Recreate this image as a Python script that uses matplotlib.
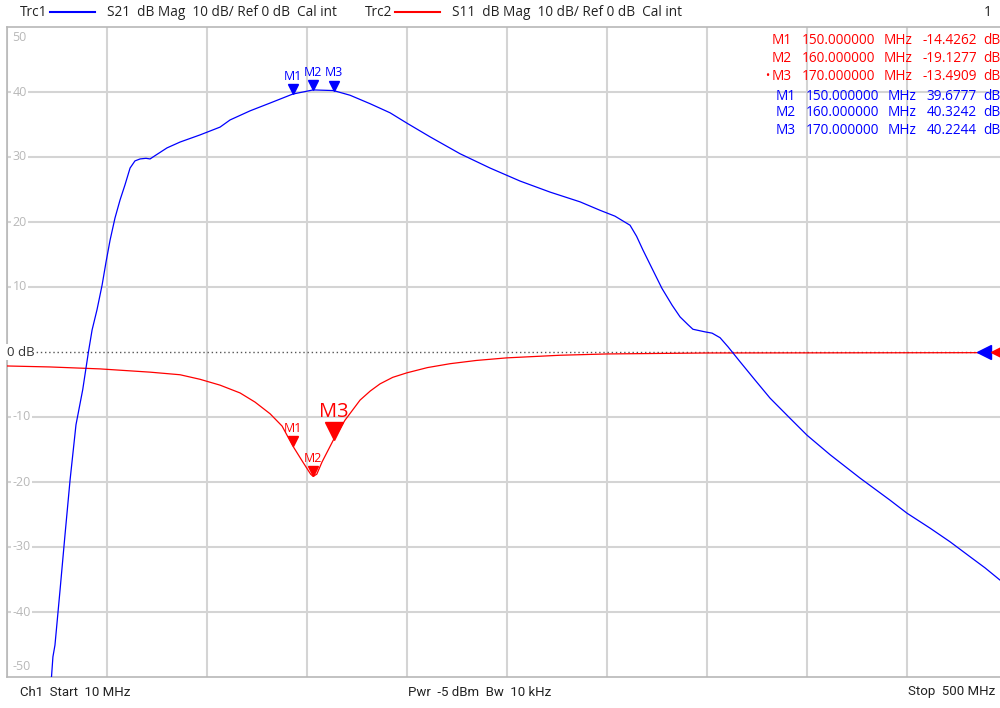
# -*- coding: utf-8 -*-
import matplotlib
matplotlib.use('Agg')
import matplotlib.pyplot as plt
from matplotlib.lines import Line2D
from matplotlib.transforms import offset_copy

plt.rcParams['font.family'] = ['Open Sans', 'DejaVu Sans']

# S21 trace (blue), MHz / dB
s21_f = [31.0, 31.8, 32.5, 33.5, 36.0, 38.4, 40.9, 43.8, 47.1, 49.9, 51.7, 54.1, 56.6, 58.5,
         60.5, 62.9, 65.4, 67.8, 70.3, 72.7, 75.2, 78.1, 80.1, 82.5, 88.4, 94.8, 104.6, 114.4,
         119.3, 129.1, 138.9, 150.0, 160.0, 170.0, 178.1, 187.9, 197.7, 206.0, 217.3, 232.0,
         246.7, 261.4, 276.1, 290.8, 300.6, 307.9, 315.3, 318.5, 321.6, 326.0, 330.9, 335.9, 339.8,
         343.7, 346.1, 352.0, 355.5, 359.4, 363.3, 369.2, 376.5, 383.9, 393.7, 402.0, 413.3,
         428.0, 442.7, 451.0, 462.3, 472.1, 481.9, 489.2, 496.6, 500.0]
s21_db = [-52.0, -50.0, -46.9, -45.1, -36.6, -28.2, -19.7, -11.2, -5.8, 0.0, 3.4, 6.5, 10.3, 13.8,
          17.2, 20.6, 23.4, 25.7, 28.3, 29.4, 29.7, 29.8, 29.7, 30.2, 31.4, 32.3, 33.4, 34.6,
          35.7, 37.1, 38.3, 39.68, 40.32, 40.22, 39.5, 38.2, 36.8, 35.2, 33.1, 30.5,
          28.3, 26.3, 24.6, 23.1, 21.8, 20.9, 19.5, 17.8, 15.7, 12.9, 9.8, 7.2, 5.4,
          4.2, 3.5, 3.1, 2.9, 2.2, 0.8, -1.5, -4.3, -7.1, -10.2, -12.8, -15.8,
          -19.4, -22.8, -24.8, -27.1, -29.2, -31.5, -33.2, -35.1, -35.5]

# S11 trace (red)
s11_f = [10.0, 31.0, 55.6, 80.1, 94.8, 104.6, 114.4, 124.2, 131.5, 138.9, 144.8, 150.0, 154.9,
         158.8, 160.0, 161.8, 164.4, 170.0, 175.6, 183.0, 188.0, 192.8, 199.0, 206.0, 216.0,
         227.1, 240.0, 255.0, 281.0, 304.0, 353.0, 500.0]
s11_db = [-2.15, -2.3, -2.6, -3.1, -3.5, -4.2, -5.1, -6.3, -7.7, -9.5, -11.4, -14.43, -16.9,
          -18.8, -19.13, -18.8, -16.9, -13.49, -10.5, -7.4, -6.0, -4.9, -3.9, -3.2, -2.4,
          -1.8, -1.3, -0.9, -0.5, -0.3, -0.15, -0.1]

mk_names = ['M1', 'M2', 'M3']
mk_f = [150.0, 160.0, 170.0]
mk_s11 = [-14.4262, -19.1277, -13.4909]
mk_s21 = [39.6777, 40.3242, 40.2244]

yticks = [50, 40, 30, 20, 10, -10, -20, -30, -40, -50]
f_start, f_stop = 10, 500

BLUE = '#0000ff'
RED = '#ff0000'
GRID = '#d4d4d4'
TXT = '#222222'

fig = plt.figure(figsize=(10, 7.08), dpi=100)
ax = fig.add_axes([0.007, 31 / 708, 1.0, 650 / 708])
ax.set_xlim(f_start, f_stop)
ax.set_ylim(-50, 50)
ax.set_xticks([f_start + 49 * k for k in range(11)])
ax.set_yticks([v for v in yticks if abs(v) < 50])
ax.tick_params(length=0, labelbottom=False, labelleft=False)
ax.grid(True, color=GRID, linewidth=1.5)
for s in ['left', 'bottom', 'top']:
    ax.spines[s].set_color('#b8b8b8')
    ax.spines[s].set_linewidth(1.2)
ax.spines['right'].set_visible(False)

# reference line at 0 dB
ax.axhline(0, color='#555555', linewidth=1, linestyle=(0, (1, 2)), zorder=2)

ax.plot(s11_f, s11_db, color=RED, linewidth=0.9, zorder=3)
ax.plot(s21_f, s21_db, color=BLUE, linewidth=0.9, zorder=4)

# y labels inside plot
for v in yticks:
    va = 'center'
    dy = 0
    if v == 50:
        va, dy = 'top', -3
    elif v == -50:
        va, dy = 'bottom', 3
    ax.annotate(str(v), (0, v), xycoords=('axes fraction', 'data'), xytext=(4, dy),
                textcoords='offset points', ha='left', va=va, fontsize=9, color='#b8b8b8',
                bbox=dict(boxstyle='square,pad=0.1', fc='white', ec='none'), zorder=5)
ax.annotate('0 dB', (0, 0), xycoords=('axes fraction', 'data'), xytext=(0, 0),
            textcoords='offset points', ha='left', va='center', fontsize=9.5, color='#333333',
            bbox=dict(boxstyle='square,pad=0.1', fc='white', ec='none'), zorder=5)

# markers (triangle tip on the trace)
def draw_markers(vals, color, ms, lab_size, lab_off, big=None):
    for i, (n, f, v) in enumerate(zip(mk_names, mk_f, vals)):
        m = ms if big != i else ms * 1.8
        tr = offset_copy(ax.transData, fig=fig, y=m / 2, units='points')
        ax.plot([f], [v], marker='v', markersize=m, color=color, linestyle='none',
                transform=tr, zorder=6, clip_on=False)
        fs = lab_size if big != i else lab_size * 1.6
        off = lab_off if big != i else lab_off * 1.55
        ax.annotate(n, (f, v), xytext=(0, off), textcoords='offset points', ha='center',
                    va='bottom', fontsize=fs, color=color, zorder=6)

draw_markers(mk_s21, BLUE, 7, 9, 8)
draw_markers(mk_s11, RED, 7, 9, 8, big=2)

# reference position arrows on right edge
ax.plot([488.5], [0], marker='<', markersize=10, color=BLUE, linestyle='none', zorder=7)
ax.plot([495.5], [0], marker='<', markersize=10, color=RED, linestyle='none', zorder=7)

# marker table
def fy(py):
    return 1 - py / 708

rows_y = [41, 58, 76, 96, 113, 130]
vals = mk_s11 + mk_s21
for k in range(6):
    c = RED if k < 3 else BLUE
    sh = 0 if k < 3 else 4
    y = fy(rows_y[k])
    fig.text((792 + sh) / 1000, y, mk_names[k % 3], ha='right', va='center', fontsize=9.8, color=c)
    fig.text((802 + sh) / 1000, y, '%.6f' % mk_f[k % 3], ha='left', va='center', fontsize=9.8, color=c)
    fig.text((884 + sh) / 1000, y, 'MHz', ha='left', va='center', fontsize=9.8, color=c)
    fig.text(977 / 1000, y, '%.4f' % vals[k], ha='right', va='center', fontsize=9.8, color=c)
    fig.text(983 / 1000, y, 'dB', ha='left', va='center', fontsize=9.8, color=c)
fig.text(767 / 1000, fy(76), '•', ha='center', va='center', fontsize=8, color=RED)

# header
hy = fy(12)
fig.text(20 / 1000, hy, 'Trc1', ha='left', va='center', fontsize=9.8, color=TXT)
fig.add_artist(Line2D([50 / 1000, 95 / 1000], [hy, hy], color=BLUE, linewidth=1.5))
fig.text(107 / 1000, hy, 'S21  dB Mag  10 dB/ Ref 0 dB  Cal int', ha='left', va='center',
         fontsize=9.8, color=TXT)
fig.text(365 / 1000, hy, 'Trc2', ha='left', va='center', fontsize=9.8, color=TXT)
fig.add_artist(Line2D([395 / 1000, 440 / 1000], [hy, hy], color=RED, linewidth=1.5))
fig.text(452 / 1000, hy, 'S11  dB Mag  10 dB/ Ref 0 dB  Cal int', ha='left', va='center',
         fontsize=9.8, color=TXT)
fig.text(992 / 1000, hy, '1', ha='right', va='center', fontsize=9.8, color=TXT)

# footer
by = fy(692)
narrow = ['Roboto', 'DejaVu Sans']
fig.text(20 / 1000, by, 'Ch1  Start  10 MHz', ha='left', va='center', fontsize=9.5,
         color=TXT, family=narrow, stretch='condensed')
fig.text(480 / 1000, by, 'Pwr  -5 dBm  Bw  10 kHz', ha='center', va='center', fontsize=9.5,
         color=TXT, family=narrow, stretch='condensed')
fig.text(995 / 1000, by, 'Stop  500 MHz', ha='right', va='center', fontsize=9.5,
         color=TXT, family=narrow, stretch='condensed')

fig.savefig('out.png', dpi=100)
